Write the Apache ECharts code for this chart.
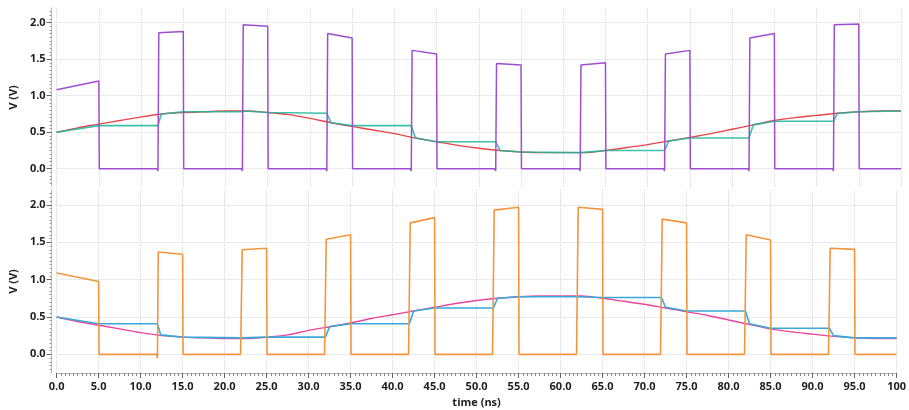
<!DOCTYPE html>
<html>
<head>
<meta charset="utf-8">
<script src="https://cdn.jsdelivr.net/npm/echarts@6/dist/echarts.min.js"></script>
<style>html,body{margin:0;padding:0;background:#fff}#c{width:909px;height:410px}</style>
</head>
<body>
<div id="c"></div>
<script>
// ---- Data ----
const xTickLabels = ["0.0","5.0","10.0","15.0","20.0","25.0","30.0","35.0","40.0","45.0","50.0","55.0","60.0","65.0","70.0","75.0","80.0","85.0","90.0","95.0","100"];
const yTickValues = [0, 0.5, 1.0, 1.5, 2.0];

// pulse edges (ns) shared by both pulse traces
const pulseTimes = [0,5,5.05,
  11.9,12,12.1,15,15.05, 21.9,22,22.1,25,25.05, 31.9,32,32.1,35,35.05,
  41.9,42,42.1,45,45.05, 51.9,52,52.1,55,55.05, 61.9,62,62.1,65,65.05,
  71.9,72,72.1,75,75.05, 81.9,82,82.1,85,85.05, 91.9,92,92.1,95,95.05, 100];
const topPulse = [1.08,1.20,0,
  0,-0.03,1.86,1.88,0, 0,-0.03,1.97,1.95,0, 0,-0.03,1.85,1.79,0,
  0,-0.03,1.62,1.57,0, 0,-0.03,1.44,1.42,0, 0,-0.03,1.42,1.45,0,
  0,-0.03,1.57,1.62,0, 0,-0.03,1.79,1.85,0, 0,-0.03,1.97,1.98,0, 0];
const bottomPulse = [1.09,0.975,0,
  0,-0.05,1.37,1.34,0, 0,-0.02,1.40,1.42,0, 0,-0.02,1.54,1.60,0,
  0,-0.02,1.76,1.83,0, 0,-0.02,1.93,1.97,0, 0,-0.02,1.97,1.94,0,
  0,-0.02,1.81,1.76,0, 0,-0.02,1.60,1.53,0, 0,-0.02,1.42,1.405,0, 0];

// smooth input signals, sampled every 2.5 ns
const smoothTimes = [0,2.5,5,7.5,10,12.5,15,17.5,20,22.5,25,27.5,30,32.5,35,37.5,40,42.5,45,47.5,50,52.5,55,57.5,60,62.5,65,67.5,70,72.5,75,77.5,80,82.5,85,87.5,90,92.5,95,97.5,100];
const topSmooth = [0.50,0.56,0.61,0.66,0.71,0.75,0.77,0.78,0.79,0.79,0.77,0.74,0.69,0.63,0.58,0.53,0.48,0.42,0.37,0.32,0.28,0.25,0.23,0.22,0.22,0.22,0.25,0.29,0.33,0.38,0.43,0.48,0.54,0.60,0.66,0.70,0.73,0.76,0.78,0.79,0.79];
const bottomSmooth = [0.50,0.44,0.39,0.34,0.29,0.25,0.23,0.22,0.21,0.21,0.23,0.26,0.32,0.37,0.42,0.48,0.53,0.58,0.63,0.68,0.72,0.75,0.77,0.78,0.78,0.78,0.75,0.71,0.67,0.62,0.57,0.52,0.46,0.40,0.34,0.30,0.27,0.24,0.22,0.21,0.21];

// sample-and-hold outputs
const topHoldTimes = [0,5,12,12.4,15,22,22.3,25,32,32.5,35,42,42.5,45,52,52.5,55,62,65,72,72.5,75,82,82.5,85,92,92.5,95,100];
const topHold = [0.50,0.59,0.59,0.75,0.78,0.78,0.79,0.77,0.76,0.63,0.59,0.59,0.42,0.37,0.37,0.25,0.23,0.22,0.25,0.25,0.38,0.42,0.42,0.60,0.65,0.65,0.76,0.78,0.79];
const bottomHoldTimes = [0,5,12,12.4,15,22,25,32,32.5,35,42,42.5,45,52,52.5,55,62,65,72,72.5,75,82,82.5,85,92,92.5,95,100];
const bottomHold = [0.50,0.41,0.41,0.26,0.23,0.22,0.23,0.23,0.37,0.41,0.41,0.58,0.62,0.62,0.75,0.77,0.77,0.76,0.76,0.63,0.58,0.58,0.41,0.35,0.35,0.25,0.22,0.22];

function pairs(ts, vs){ return ts.map((t,i)=>[t, vs[i]]); }

const labelFont = {fontFamily:'Open Sans', fontWeight:'bold', fontSize:11, color:'#222'};

function yAxisFor(idx){
  return {
    gridIndex: idx, type:'value', min:-0.25, max:2.2, offset:5,
    axisLine:{show:true, onZero:false, lineStyle:{color:'#aaa', type:'dotted'}},
    axisTick:{show:true, customValues:yTickValues, length:5, lineStyle:{color:'#666'}},
    minorTick:{show:true, splitNumber:10, length:2, lineStyle:{color:'#999'}},
    axisLabel:Object.assign({customValues:yTickValues, margin:6, formatter:v=>v.toFixed(1)}, labelFont),
    splitLine:{show:true, lineStyle:{color:'#d8d8d8', type:'dotted'}},
    name:'V (V)', nameLocation:'middle', nameGap:24, nameRotate:90,
    nameTextStyle:Object.assign({}, labelFont)
  };
}

const option = {
  animation:false,
  backgroundColor:'#ffffff',
  grid:[
    {left:53, right:8, top:8, height:179},
    {left:53, right:8, top:190, height:183}
  ],
  xAxis:[
    {gridIndex:0, type:'value', min:0, max:100, interval:5,
     axisLine:{show:false, onZero:false}, axisTick:{show:false}, axisLabel:{show:false},
     splitLine:{show:true, lineStyle:{color:'#d8d8d8', type:'dotted'}}},
    {gridIndex:1, type:'value', min:0, max:100, interval:5,
     axisLine:{show:true, onZero:false, lineStyle:{color:'#aaa', type:'dotted'}},
     axisTick:{show:true, length:5, lineStyle:{color:'#666'}},
     minorTick:{show:true, splitNumber:10, length:3, lineStyle:{color:'#888'}},
     axisLabel:Object.assign({margin:8, formatter:v=>xTickLabels[Math.round(v/5)]}, labelFont),
     splitLine:{show:true, lineStyle:{color:'#d8d8d8', type:'dotted'}},
     name:'time (ns)', nameLocation:'middle', nameGap:24,
     nameTextStyle:Object.assign({}, labelFont)}
  ],
  yAxis:[yAxisFor(0), yAxisFor(1)],
  series:[
    {name:'in_top', type:'line', xAxisIndex:0, yAxisIndex:0, data:pairs(smoothTimes, topSmooth), smooth:0.3,
     showSymbol:false, lineStyle:{color:'#e8474a', width:1.4}},
    {name:'hold_top', type:'line', xAxisIndex:0, yAxisIndex:0, data:pairs(topHoldTimes, topHold),
     showSymbol:false, lineStyle:{color:'#1db59b', width:1.6, opacity:0.85}},
    {name:'clk_top', type:'line', xAxisIndex:0, yAxisIndex:0, data:pairs(pulseTimes, topPulse),
     showSymbol:false, lineStyle:{color:'#9d4fd0', width:1.5}},
    {name:'in_bot', type:'line', xAxisIndex:1, yAxisIndex:1, data:pairs(smoothTimes, bottomSmooth), smooth:0.3,
     showSymbol:false, lineStyle:{color:'#e8479f', width:1.4}},
    {name:'hold_bot', type:'line', xAxisIndex:1, yAxisIndex:1, data:pairs(bottomHoldTimes, bottomHold),
     showSymbol:false, lineStyle:{color:'#3aa8d8', width:1.6}},
    {name:'clk_bot', type:'line', xAxisIndex:1, yAxisIndex:1, data:pairs(pulseTimes, bottomPulse),
     showSymbol:false, lineStyle:{color:'#f2963e', width:1.6}}
  ]
};
echarts.init(document.getElementById('c'), null, {renderer:'canvas'}).setOption(option);
</script>
</body>
</html>
